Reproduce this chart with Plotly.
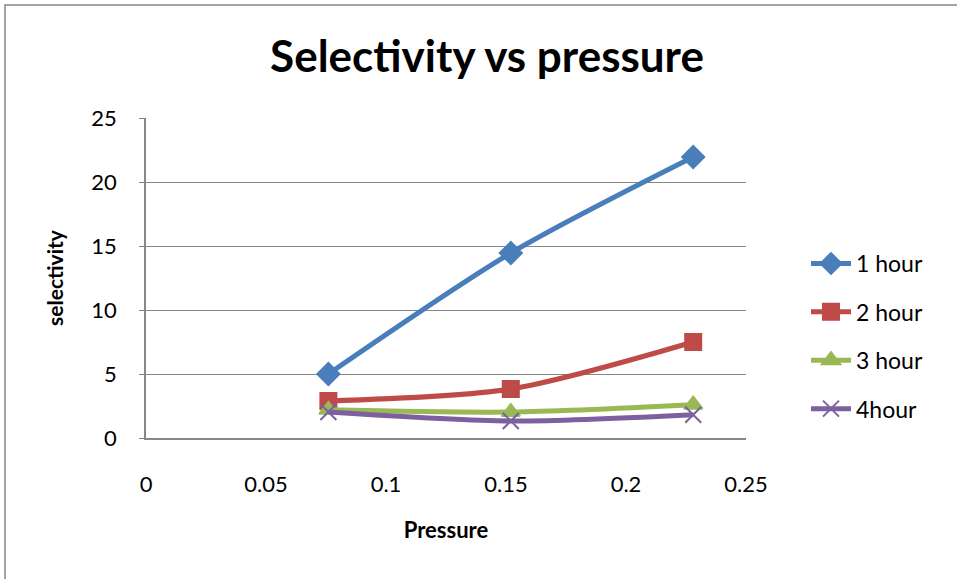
import plotly.graph_objects as go

# Pressure values and selectivity for each reaction time
pressure = [0.076, 0.152, 0.228]
sel_1h = [5.0, 14.45, 21.95]
sel_2h = [2.9, 3.83, 7.5]
sel_3h = [2.2, 2.03, 2.6]
sel_4h = [2.03, 1.33, 1.82]

series = [
    ("1 hour", sel_1h, "#4A7EBB", "diamond", 17),
    ("2 hour", sel_2h, "#BE4B48", "square", 16),
    ("3 hour", sel_3h, "#98B954", "triangle-up", 16),
    ("4hour", sel_4h, "#7D60A0", "x-thin-open", 16),
]

FONT = "Lato, 'Open Sans', sans-serif"

fig = go.Figure()
for i, (name, vals, color, sym, size) in enumerate(series):
    fig.add_trace(go.Scatter(
        x=pressure, y=vals, name=name, mode="lines+markers",
        line=dict(color=color, width=5, shape="spline", smoothing=0.8),
        marker=dict(symbol=sym, size=size, color=color,
                    line=dict(color=color, width=2)),
        legendgroup=f"g{i}",
    ))

W, H = 957, 579
L, R, T, B = 146, 746, 118, 438

def px(x):
    return (x - L) / (R - L)

def py(y):
    return (B - y) / (B - T)

# outer chart frame
fig.add_shape(type="rect", xref="paper", yref="paper",
              x0=px(5), x1=px(975), y0=py(600), y1=py(5),
              line=dict(color="#868686", width=1.5), layer="below")

fig.update_layout(
    width=W, height=H,
    margin=dict(l=L, r=W - R, t=T, b=H - B),
    paper_bgcolor="white", plot_bgcolor="white",
    font=dict(family=FONT, color="black"),
    title=dict(text="<b>Selectivity vs pressure</b>", x=px(487), xref="paper",
               xanchor="center", y=1 - 57 / H, yanchor="middle",
               font=dict(size=44, family=FONT)),
    showlegend=True,
    legend=dict(x=px(806), y=py(242), xanchor="left", yanchor="top",
                font=dict(size=23, family=FONT), tracegroupgap=15.5,
                itemwidth=40, bgcolor="rgba(0,0,0,0)"),
    xaxis=dict(range=[0, 0.25], tickvals=[0, 0.05, 0.1, 0.15, 0.2, 0.25],
               ticktext=["0", "0.05", "0.1", "0.15", "0.2", "0.25"],
               showgrid=False, zeroline=False, showline=True,
               linecolor="#868686", linewidth=1.5, ticks="",
               tickfont=dict(size=22), ticklabelstandoff=26,
               title=dict(text="<b>Pressure</b>", font=dict(size=22), standoff=26)),
    yaxis=dict(range=[0, 25], tickvals=[0, 5, 10, 15, 20, 25],
               showgrid=True, gridcolor="#868686", gridwidth=1.2,
               zeroline=False, showline=True, linecolor="#868686", linewidth=1.5,
               ticks="outside", ticklen=5, tickcolor="#868686",
               tickfont=dict(size=22), ticklabelstandoff=18,
               title=dict(text="<b>selectivity</b>", font=dict(size=21), standoff=22)),
)

fig.write_html("out.html")
